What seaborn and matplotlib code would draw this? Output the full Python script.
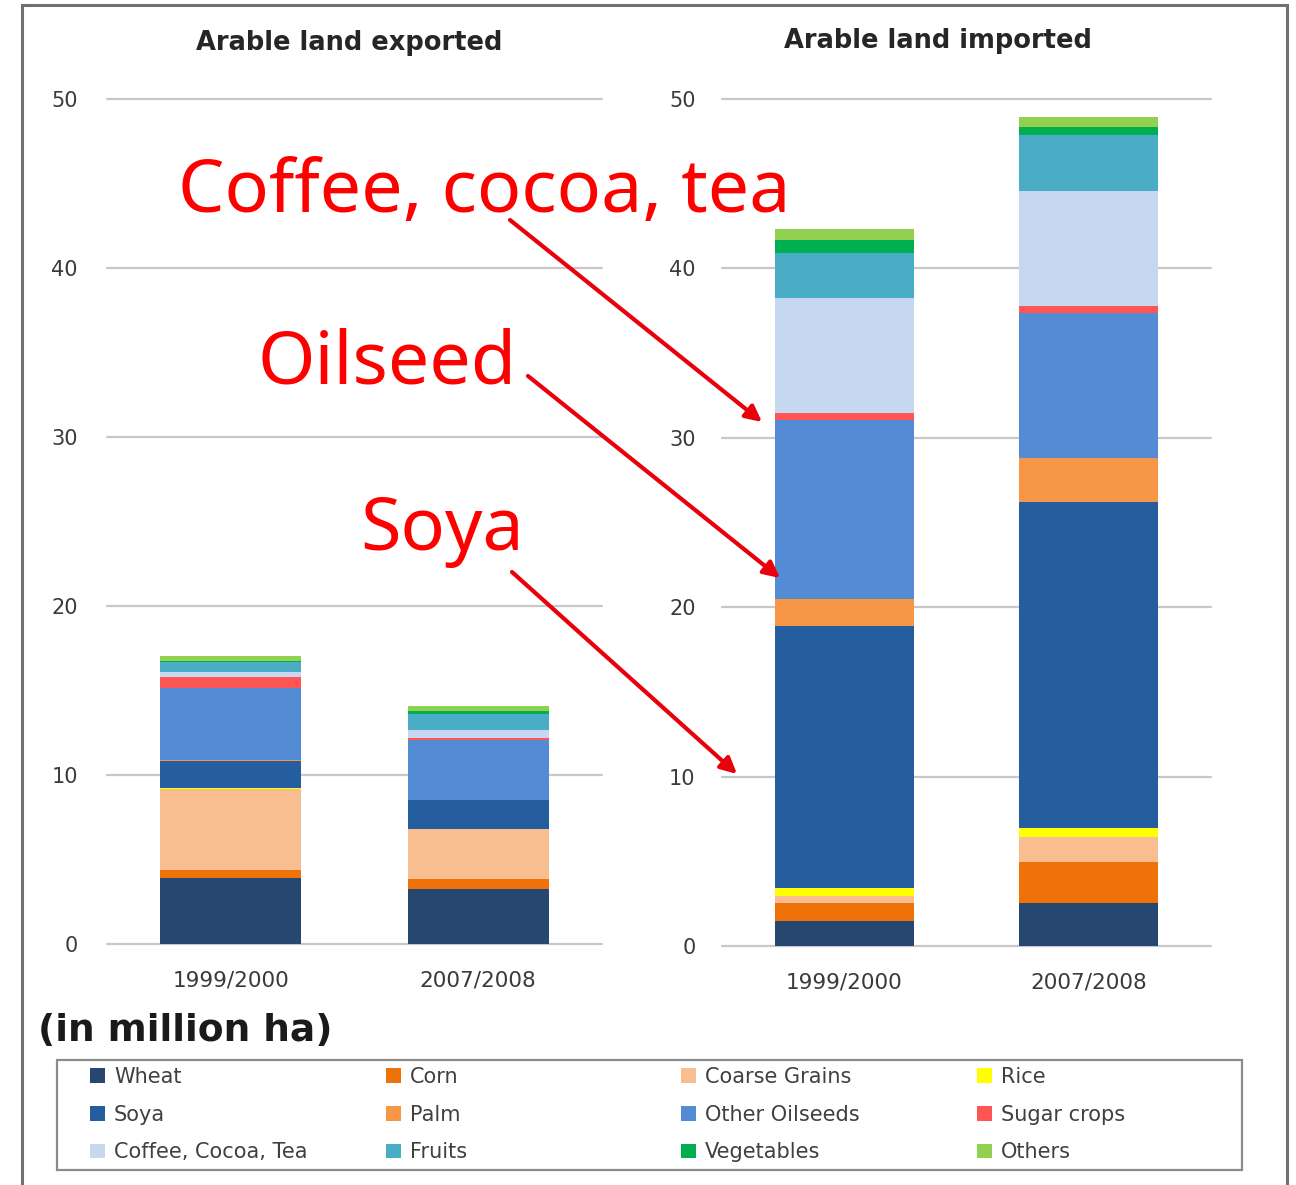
import matplotlib
matplotlib.use("Agg")
import matplotlib.pyplot as plt
import matplotlib.patches as mpatches
import numpy as np
import pandas as pd
import seaborn as sns

sns.set_theme(style="white")
plt.rcParams["font.family"] = ["DejaVu Sans"]

W, H = 1296, 1185

# ---------------------------------------------------------------- data
crops = ["Wheat", "Corn", "Coarse Grains", "Rice",
         "Soya", "Palm", "Other Oilseeds", "Sugar crops",
         "Coffee, Cocoa, Tea", "Fruits", "Vegetables", "Others"]
crop_colors = ["#264870", "#EE7207", "#F8BE90", "#FFFF00",
               "#255E9E", "#F79646", "#538CD4", "#FF5555",
               "#C5D8F0", "#4BACC6", "#00B050", "#92D050"]
periods = ["1999/2000", "2007/2008"]

# million ha, bottom to top of each stack
exported_1999 = [3.9, 0.5, 4.75, 0.1, 1.6, 0.05, 4.25, 0.65, 0.3, 0.58, 0.06, 0.33]
exported_2007 = [3.25, 0.58, 2.96, 0.03, 1.7, 0.03, 3.5, 0.15, 0.45, 0.95, 0.2, 0.28]
imported_1999 = [1.5, 1.06, 0.4, 0.45, 15.5, 1.57, 10.6, 0.4, 6.75, 2.66, 0.79, 0.63]
imported_2007 = [2.52, 2.46, 1.44, 0.53, 19.25, 2.6, 8.59, 0.39, 6.81, 3.28, 0.49, 0.59]

y_ticks = [0, 10, 20, 30, 40, 50]


def long_table(first, second):
    df = pd.DataFrame({"crop": crops * 2,
                       "period": [periods[0]] * len(crops) + [periods[1]] * len(crops),
                       "value": first + second})
    df["top"] = df.groupby("period")["value"].cumsum()
    return df


def stacked(ax, df, title, title_x, title_y, pad_y):
    # draw cumulative tops from the highest layer down so each covers the next
    for crop, col in reversed(list(zip(crops, crop_colors))):
        sub = df[df["crop"] == crop]
        sns.barplot(data=sub, x="period", y="top", order=periods, color=col,
                    saturation=1, width=0.57, errorbar=None, linewidth=0,
                    ax=ax)
    ax.set_xlim(-0.5, 1.5)
    ax.set_ylim(0, 50)
    ax.set_yticks(y_ticks)
    ax.set_xlabel("")
    ax.set_ylabel("")
    ax.set_axisbelow(True)
    ax.yaxis.grid(True, color="#C8C8C8", linewidth=1.6)
    for gl in ax.get_ygridlines():
        gl.set_clip_on(False)
    sns.despine(ax=ax, left=True, bottom=True)
    ax.tick_params(axis="y", length=0, pad=pad_y, labelsize=15, labelcolor="#3A3A3A")
    ax.tick_params(axis="x", length=0, pad=19, labelsize=15.5, labelcolor="#3A3A3A")
    fig.text(title_x / W, 1 - title_y / H, title, ha="center", va="center",
             fontsize=18.5, fontweight="bold", color="#262626")


fig = plt.figure(figsize=(W / 100, H / 100), dpi=100)

ax_exp = fig.add_axes([107 / W, 1 - 944 / H, 495 / W, 845 / H])
ax_imp = fig.add_axes([722 / W, 1 - 946 / H, 489 / W, 847 / H])

stacked(ax_exp, long_table(exported_1999, exported_2007),
        "Arable land exported", 349, 43, 21)
stacked(ax_imp, long_table(imported_1999, imported_2007),
        "Arable land imported", 938, 41, 19)

# outer frame of the original graphic
fig.add_artist(mpatches.Rectangle((22 / W, -0.05), (1287 - 22) / W, 1 - 5 / H + 0.05,
                                  transform=fig.transFigure, fill=False,
                                  edgecolor="#707070", linewidth=2.2))

fig.text(38 / W, 1 - 1031 / H, "(in million ha)", ha="left", va="center",
         fontsize=27, fontweight="heavy", color="#1A1A1A")

# legend: frame plus four fixed-width columns, filled row by row
fig.add_artist(mpatches.Rectangle((57 / W, 1 - 1170 / H), (1242 - 57) / W, 110 / H,
                                  transform=fig.transFigure, fill=False,
                                  edgecolor="#8C8C8C", linewidth=1.6))
handles = [mpatches.Patch(facecolor=c, edgecolor="none", label=n)
           for n, c in zip(crops, crop_colors)]
col_x = [90, 386, 681, 977]
for j, x in enumerate(col_x):
    idx = [j, j + 4, j + 8]
    leg = fig.legend([handles[i] for i in idx], [crops[i] for i in idx],
                     loc="upper left", bbox_to_anchor=(x / W, 1 - 1067 / H),
                     fontsize=15, frameon=False, borderpad=0, borderaxespad=0,
                     labelspacing=0.85, handlelength=0.7, handleheight=0.7,
                     handletextpad=0.45)
    for t in leg.get_texts():
        t.set_color("#404040")

# red call-outs
red_font = dict(color="#FF0000", fontsize=53, family=["Noto Sans", "DejaVu Sans"],
                ha="left", va="baseline")
fig.text(178 / W, 1 - 212 / H, "Coffee, cocoa, tea", **red_font)
fig.text(258 / W, 1 - 384 / H, "Oilseed", **red_font)
fig.text(360 / W, 1 - 550 / H, "Soya", **red_font)

arrows = [((510, 220), (762, 422)),
          ((528, 376), (780, 578)),
          ((512, 572), (737, 774))]
for (x0, y0), (x1, y1) in arrows:
    ax_imp.annotate("", xy=(x1, H - y1), xycoords="figure pixels",
                    xytext=(x0, H - y0), textcoords="figure pixels",
                    arrowprops=dict(arrowstyle="-|>", color="#E8000B", lw=3,
                                    mutation_scale=24, shrinkA=0, shrinkB=0),
                    annotation_clip=False)

fig.savefig("out.png", dpi=100)
